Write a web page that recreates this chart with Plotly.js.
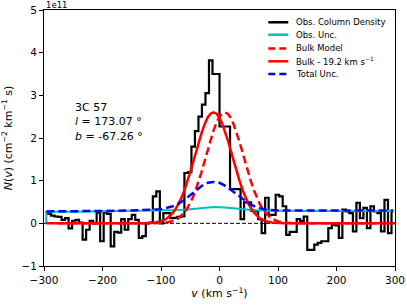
<!DOCTYPE html>
<html>
<head>
<meta charset="utf-8">
<script src="https://cdn.plot.ly/plotly-3.0.1.min.js"></script>
<style>html,body{margin:0;padding:0;background:#fff;}#chart{width:407px;height:305px;}</style>
</head>
<body>
<div id="chart"></div>
<script>
// Velocity bin centres (km/s)
var velBins = [
-297,-291,-285,-279,-273,-267,-261,-255,-249,-243,
-237,-231,-225,-219,-213,-207,-201,-195,-189,-183,
-177,-171,-165,-159,-153,-147,-141,-135,-129,-123,
-117,-111,-105,-99,-93,-87,-81,-75,-69,-63,
-57,-51,-45,-39,-33,-27,-21,-15,-9,-3,
3,9,15,21,27,33,39,45,51,57,
63,69,75,81,87,93,99,105,111,117,
123,129,135,141,147,153,159,165,171,177,
183,189,195,201,207,213,219,225,231,237,
243,249,255,261,267,273,279,285,291,297];
// Observed column density (units of 1e11 cm^-2 (km/s)^-1)
var obsColDens = [
0.25,0.22,0.18,0.16,0.15,0.08,0.12,-0.12,0.06,0.08,
0.02,-0.38,-0.15,0.06,0.0,0.25,-0.42,0.25,0.22,-0.54,
-0.2,-0.22,0.1,-0.15,0.1,0.2,0.08,-0.34,-0.3,0.0,
0.02,0.63,0.75,0.0,0.24,0.24,0.12,0.13,0.15,0.16,
1.18,1.2,1.8,2.16,2.5,2.78,3.05,3.82,3.5,3.5,
2.27,2.27,2.27,0.8,0.8,0.8,0.1,0.49,0.49,0.3,
0.28,0.1,-0.23,0.6,0.2,0.2,0.67,0.63,0.4,-0.27,
-0.2,-0.2,0.1,0.05,0.16,-0.62,-0.62,-0.5,-0.46,-0.42,
-0.42,-0.11,-0.03,-0.05,-0.34,0.32,0.28,0.24,-0.19,0.48,
0.12,0.36,-0.11,0.4,0.28,0.24,-0.19,0.55,-0.23,0.28];

// Observed uncertainty
var obsUncV = [-296,-296,-250,-200,-150,-100,-70,-50,-30,-10,10,30,50,70,100,150,200,250,297];
var obsUnc  = [0,0.27,0.27,0.28,0.29,0.3,0.31,0.33,0.36,0.38,0.37,0.34,0.32,0.3,0.29,0.29,0.29,0.29,0.29];

// Total uncertainty
var totUncV = [-296,-250,-200,-150,-100,-80,-70,-60,-50,-40,-30,-20,-10,0,10,20,30,40,50,60,70,80,100,150,200,250,297];
var totUnc  = [0.28,0.28,0.29,0.3,0.33,0.4,0.46,0.55,0.66,0.78,0.88,0.95,0.97,0.95,0.88,0.78,0.67,0.56,0.47,0.4,0.35,0.32,0.3,0.3,0.3,0.3,0.3];

// Bulk model
var bulkV = [-277,-111,-91,-81,-71,-61,-56,-51,-46,-41,-36,-31,-26,-21,-16,-11,-6,-1,4,9,
             14,19,24,29,34,39,44,49,54,59,64,69,74,79,89,99,109,129,316];
var bulkN = [0,0,0.02,0.05,0.11,0.24,0.33,0.45,0.59,0.77,0.97,1.19,1.43,1.68,1.92,2.14,2.33,2.48,2.57,2.6,
             2.57,2.48,2.33,2.14,1.92,1.68,1.43,1.19,0.97,0.77,0.59,0.45,0.33,0.24,0.11,0.05,0.02,0,0];
var bulkShift = 19.2; // km/s
var bulkShiftedV = bulkV.map(function(v){ return v - bulkShift; });

var zeroV = [-300, 300];
var zeroN = [0, 0];

var legendLabels = ['Obs. Column Density', 'Obs. Unc.', 'Bulk Model', 'Bulk - 19.2 km s<sup>−1</sup>', 'Total Unc.'];
var legendColors = ['black', '#00bfbf', 'red', 'red', 'blue'];
var legendDashes = ['solid', 'solid', '7px,4px', 'solid', '7px,4px'];

var traces = [
  {x: zeroV, y: zeroN, mode: 'lines', line: {color: 'black', width: 1, dash: '4px,2px'}, showlegend: false, hoverinfo: 'skip'},
  {x: velBins, y: obsColDens, mode: 'lines', line: {color: 'black', width: 2.2, shape: 'hvh'}, name: legendLabels[0]},
  {x: obsUncV, y: obsUnc, mode: 'lines', line: {color: legendColors[1], width: 2}, name: legendLabels[1]},
  {x: bulkV, y: bulkN, mode: 'lines', line: {color: 'red', width: 2.5, dash: '8px,4px'}, name: legendLabels[2]},
  {x: bulkShiftedV, y: bulkN, mode: 'lines', line: {color: 'red', width: 2.5}, name: legendLabels[3]},
  {x: totUncV, y: totUnc, mode: 'lines', line: {color: 'blue', width: 2.5, dash: '8px,4px'}, name: legendLabels[4]}
];

var font = 'DejaVu Sans, sans-serif';

// legend drawn as shapes + annotations (matplotlib-style compact rows)
var legRowsY = [0.952, 0.9035, 0.850, 0.7996, 0.75];
var shapes = [], anns = [];
for (var i = 0; i < legendLabels.length; i++) {
  shapes.push({type: 'line', xref: 'paper', yref: 'paper', x0: 0.639, x1: 0.696, y0: legRowsY[i], y1: legRowsY[i],
               line: {color: legendColors[i], width: 2.5, dash: legendDashes[i]}});
  anns.push({xref: 'paper', yref: 'paper', x: 0.713, y: legRowsY[i], xanchor: 'left', yanchor: 'middle',
             text: legendLabels[i], showarrow: false, font: {family: font, size: 8.5, color: 'black'}});
}
anns.push({xref: 'paper', yref: 'paper', x: 0, y: 1, xanchor: 'left', yanchor: 'bottom', text: '1e11',
           showarrow: false, font: {family: font, size: 8.5}, yshift: -2});
anns.push({xref: 'paper', yref: 'paper', x: 0.083, y: 0.652, xanchor: 'left', yanchor: 'top', align: 'left',
           text: '3C 57<br><i>l</i> = 173.07 °<br><i>b</i> = -67.26 °', showarrow: false,
           font: {family: font, size: 11}});

var layout = {
  width: 407, height: 305,
  margin: {l: 44, r: 12, t: 10, b: 39},
  paper_bgcolor: 'white', plot_bgcolor: 'white',
  font: {family: font, color: 'black', size: 10},
  showlegend: false,
  xaxis: {range: [-300, 300], tickvals: [-300,-200,-100,0,100,200,300], ticks: 'outside', ticklen: 4,
          tickwidth: 1, tickcolor: 'black', showline: true, linecolor: 'black', linewidth: 1, mirror: true,
          showgrid: false, zeroline: false, tickfont: {family: font, size: 10.5},
          title: {text: '<i>v</i> (km s<sup>−1</sup>)', font: {family: font, size: 11}, standoff: 4}},
  yaxis: {range: [-1, 5], tickvals: [-1,0,1,2,3,4,5], ticks: 'outside', ticklen: 4,
          tickwidth: 1, tickcolor: 'black', showline: true, linecolor: 'black', linewidth: 1, mirror: true,
          showgrid: false, zeroline: false, tickfont: {family: font, size: 10.5},
          title: {text: '<i>N</i>(<i>v</i>) (cm<sup>−2</sup> km<sup>−1</sup> s)', font: {family: font, size: 11}, standoff: 6}},
  shapes: shapes,
  annotations: anns
};

Plotly.newPlot('chart', traces, layout, {displayModeBar: false, staticPlot: true});
</script>
</body>
</html>
